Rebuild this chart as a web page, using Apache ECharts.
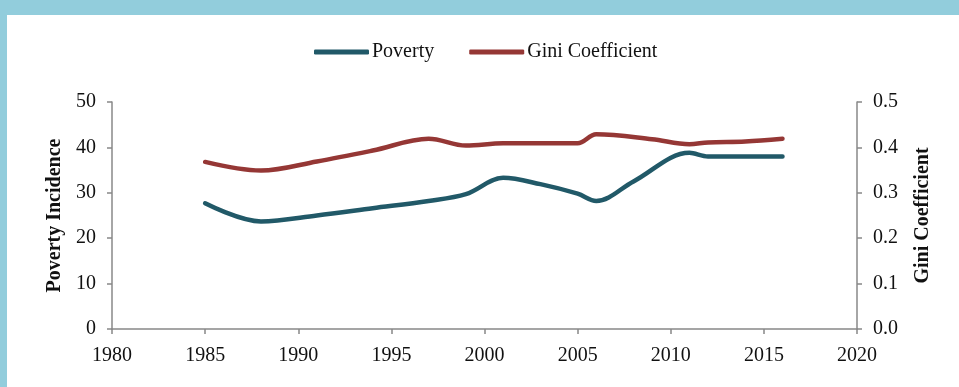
<!DOCTYPE html>
<html>
<head>
<meta charset="utf-8">
<script src="https://cdn.jsdelivr.net/npm/echarts@6/dist/echarts.min.js"></script>
<style>
  html, body { margin: 0; padding: 0; background: #ffffff; }
  #chart { width: 959px; height: 387px; }
</style>
</head>
<body>
<div id="chart"></div>
<script>
// Survey years and values
const povertyYears = [1985, 1988, 1991, 1994, 1997, 1999, 2001, 2003, 2005, 2006, 2008, 2011, 2012, 2014, 2016];
const povertyValues = [27.7, 23.7, 25.0, 26.6, 28.2, 29.7, 33.3, 31.9, 29.8, 28.2, 32.5, 38.8, 38.0, 38.0, 38.0];

const giniYears = [1985, 1988, 1991, 1994, 1997, 1999, 2001, 2005, 2006, 2009, 2011, 2012, 2014, 2016];
const giniValues = [0.368, 0.349, 0.369, 0.393, 0.419, 0.404, 0.409, 0.409, 0.429, 0.418, 0.407, 0.411, 0.413, 0.419];

const xTicks = { min: 1980, max: 2020, step: 5 };
const leftTicks = { min: 0, max: 50, step: 10 };
const rightTicks = { min: 0, max: 0.5, step: 0.1 };

const pairs = (xs, ys) => xs.map((x, i) => [x, ys[i]]);

const FONT = 'Liberation Serif, Times New Roman, serif';
const AXIS_COLOR = '#888888';
const TEXT_COLOR = '#111111';
const POVERTY_COLOR = '#215968';
const GINI_COLOR = '#953735';

const chart = echarts.init(document.getElementById('chart'), null, { renderer: 'canvas' });

chart.setOption({
  backgroundColor: '#ffffff',
  animation: false,
  graphic: [
    { type: 'rect', z: 100, shape: { x: 0, y: 0, width: 959, height: 15 }, style: { fill: '#92CDDC' } },
    { type: 'rect', z: 100, shape: { x: 0, y: 0, width: 7, height: 387 }, style: { fill: '#92CDDC' } }
  ],
  legend: {
    left: 309,
    top: 37,
    itemWidth: 55,
    itemHeight: 5,
    itemGap: 35,
    icon: 'roundRect',
    textStyle: { fontFamily: FONT, fontSize: 20, color: TEXT_COLOR, padding: [0, 0, 0, -2] },
    data: ['Poverty', 'Gini Coefficient']
  },
  grid: { left: 112, right: 102, top: 102, bottom: 58, containLabel: false },
  xAxis: {
    type: 'value',
    min: xTicks.min,
    max: xTicks.max,
    interval: xTicks.step,
    axisLine: { show: true, lineStyle: { color: AXIS_COLOR, width: 1.5 } },
    axisTick: { show: true, length: 5, lineStyle: { color: AXIS_COLOR, width: 1.5 } },
    splitLine: { show: false },
    axisLabel: {
      fontFamily: FONT, fontSize: 20, color: TEXT_COLOR, margin: 17,
      formatter: v => String(v)
    }
  },
  yAxis: [
    {
      type: 'value',
      position: 'left',
      min: leftTicks.min,
      max: leftTicks.max,
      interval: leftTicks.step,
      name: 'Poverty Incidence',
      nameLocation: 'middle',
      nameRotate: 90,
      nameGap: 47,
      nameTextStyle: { fontFamily: FONT, fontSize: 20, fontWeight: 'bold', color: TEXT_COLOR },
      axisLine: { show: true, lineStyle: { color: AXIS_COLOR, width: 1.5 } },
      axisTick: { show: true, length: 5, lineStyle: { color: AXIS_COLOR, width: 1.5 } },
      splitLine: { show: false },
      axisLabel: { fontFamily: FONT, fontSize: 20, color: TEXT_COLOR, margin: 16 }
    },
    {
      type: 'value',
      position: 'right',
      min: rightTicks.min,
      max: rightTicks.max,
      interval: rightTicks.step,
      name: 'Gini Coefficient',
      nameLocation: 'middle',
      nameRotate: 90,
      nameGap: 56,
      nameTextStyle: { fontFamily: FONT, fontSize: 20, fontWeight: 'bold', color: TEXT_COLOR },
      axisLine: { show: true, lineStyle: { color: AXIS_COLOR, width: 1.5 } },
      axisTick: { show: true, length: 5, lineStyle: { color: AXIS_COLOR, width: 1.5 } },
      splitLine: { show: false },
      axisLabel: {
        fontFamily: FONT, fontSize: 20, color: TEXT_COLOR, margin: 16,
        formatter: v => v.toFixed(1)
      }
    }
  ],
  series: [
    {
      name: 'Poverty',
      type: 'line',
      yAxisIndex: 0,
      data: pairs(povertyYears, povertyValues),
      smooth: 0.35,
      showSymbol: false,
      symbol: 'none',
      color: POVERTY_COLOR,
      lineStyle: { width: 4.5, color: POVERTY_COLOR, cap: 'round' }
    },
    {
      name: 'Gini Coefficient',
      type: 'line',
      yAxisIndex: 1,
      data: pairs(giniYears, giniValues),
      smooth: 0.35,
      showSymbol: false,
      symbol: 'none',
      color: GINI_COLOR,
      lineStyle: { width: 4.5, color: GINI_COLOR, cap: 'round' }
    }
  ]
});
</script>
</body>
</html>
